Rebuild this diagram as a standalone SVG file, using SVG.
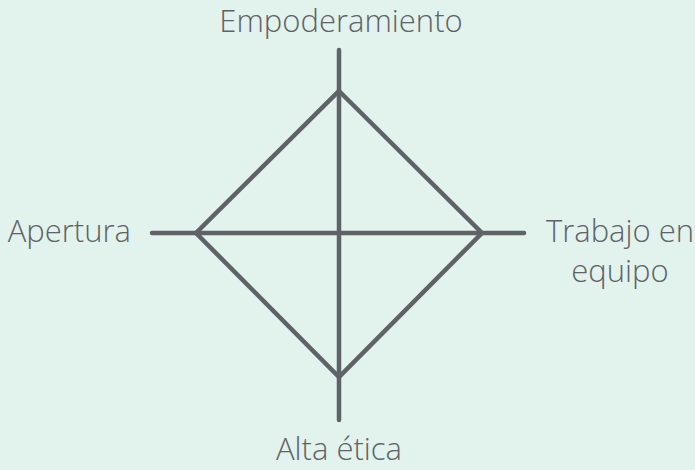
<svg xmlns="http://www.w3.org/2000/svg" width="695" height="470" viewBox="0 0 695 470">
<style>
.lbl{font-family:"Open Sans","Liberation Sans",sans-serif;font-size:31px;font-weight:300;fill:#5f6267}
.ln{stroke:#5f6267;stroke-width:4.5;stroke-linecap:round;stroke-linejoin:miter;fill:none}
</style>
<rect width="695" height="470" fill="#e2f2ec"/>
<g id="connectors">
<line class="ln" x1="339" y1="50" x2="339" y2="420"/>
<line class="ln" x1="152" y1="233" x2="524" y2="233"/>
<polygon class="ln" points="339,91 482,233 339,377 196,233"/>
</g>
<g id="node-empoderamiento"><text class="lbl" x="341" y="32" text-anchor="middle">Empoderamiento</text></g>
<g id="node-apertura"><text class="lbl" x="131" y="242" text-anchor="end">Apertura</text></g>
<g id="node-trabajo"><text class="lbl" text-anchor="middle"><tspan x="620" y="242">Trabajo en</tspan><tspan x="620" y="282">equipo</tspan></text></g>
<g id="node-alta"><text class="lbl" x="339" y="460" text-anchor="middle">Alta ética</text></g>
</svg>
